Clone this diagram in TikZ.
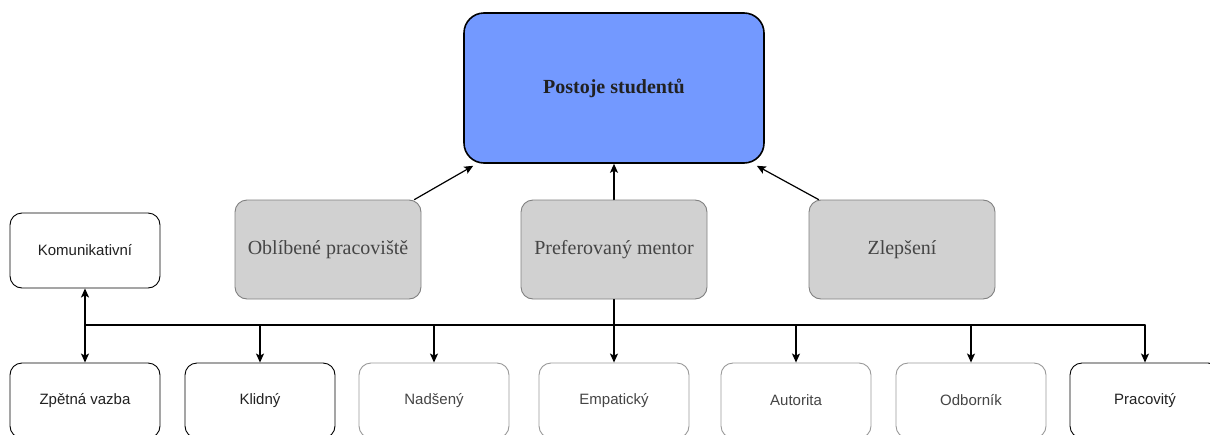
\documentclass[tikz,border=0pt]{standalone}
\usepackage{fontspec}
\setmainfont{Liberation Serif}
\setsansfont{Liberation Sans}
\usetikzlibrary{arrows.meta,calc}
\definecolor{mainblue}{rgb}{0.45,0.6,1}
\definecolor{boxgray}{rgb}{0.82,0.82,0.82}
\definecolor{edgegray}{rgb}{0.5,0.5,0.5}
\definecolor{lightedge}{rgb}{0.6,0.6,0.6}
\definecolor{txtgray}{rgb}{0.27,0.27,0.27}
\definecolor{txtdark}{rgb}{0.13,0.13,0.13}

\begin{document}
\begin{tikzpicture}[line cap=round,line join=round,x=1pt,y=-1pt,
  >={Stealth[length=9pt,width=8pt,inset=2pt]},
  mainbox/.style={draw=black,line width=1.6pt,fill=mainblue,rounded corners=20pt,
    minimum width=300pt,minimum height=150pt,font=\fontsize{20}{22}\selectfont\bfseries,text=txtdark},
  graybox/.style={draw=edgegray,line width=0.9pt,fill=boxgray,rounded corners=12pt,
    minimum width=186pt,minimum height=99pt,font=\fontsize{20}{22}\selectfont,text=txtgray},
  blackbox/.style={draw=black,line width=0.9pt,fill=white,rounded corners=12pt,
    minimum width=150pt,minimum height=75pt,font=\sffamily\fontsize{15}{17}\selectfont,text=txtdark},
  lightbox/.style={blackbox,draw=lightedge,text=txtgray},
  conn/.style={line width=1.2pt}]
\useasboundingbox (0,0) rectangle (1210,434);
%top
\node[mainbox] (main) at (614,88) {Postoje studentů};
\node[graybox] (obl) at (328,249.5) {Oblíbené pracoviště};
\node[graybox] (pref) at (614,249.5) {Preferovaný mentor};
\node[graybox] (zlep) at (902,249.5) {Zlepšení};
\node[blackbox] (kom) at (85,250.5) {Komunikativní};
%bottom row
\node[blackbox] (zpet) at (85,400.5) {Zpětná vazba};
\node[blackbox] (klid) at (260,400.5) {Klidný};
\node[lightbox] (nads) at (434,400.5) {Nadšený};
\node[lightbox] (emp) at (614,400.5) {Empatický};
\node[lightbox] (aut) at (796,400.5) {Autorita};
\node[lightbox] (odb) at (971,400.5) {Odborník};
\node[blackbox] (prac) at (1145,400.5) {Pracovitý};
\coordinate (bus) at (0,325);
%arrows to the main box
\draw[conn,->] ($(obl.north east)+(-7,0)$) -- ($(main.south west)+(10,2)$);
\draw[conn,->] (pref.north) -- (main.south);
\draw[conn,->] ($(zlep.north west)+(10,0)$) -- ($(main.south east)+(-8,2)$);
%bus
\draw[conn] (kom.south |- bus) -- (prac.north |- bus);
\draw[conn,<->] (kom.south) -- (zpet.north);
\draw[conn,->] (pref.south) -- (emp.north);
\foreach \n in {klid,nads,aut,odb,prac}
\draw[conn,->] (\n.north |- bus) -- (\n.north);
\end{tikzpicture}
\end{document}
